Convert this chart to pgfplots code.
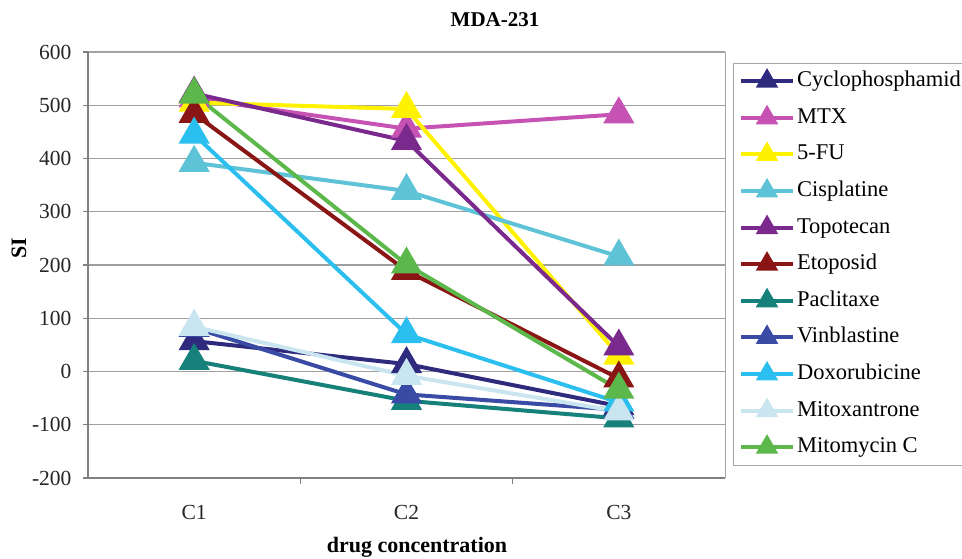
\documentclass[border=0pt]{standalone}
\usepackage{pgfplots}
\pgfplotsset{compat=1.18}
\usepackage{fontspec}
\setmainfont{Liberation Serif}
\definecolor{cCyc}{HTML}{2E2A7E}
\definecolor{cMTX}{HTML}{C653B4}
\definecolor{cFU}{HTML}{FFF200}
\definecolor{cCis}{HTML}{5EC3D6}
\definecolor{cTop}{HTML}{7A2A8C}
\definecolor{cEto}{HTML}{8A1515}
\definecolor{cPac}{HTML}{16807A}
\definecolor{cVin}{HTML}{3A4BA6}
\definecolor{cDox}{HTML}{2BBFEF}
\definecolor{cMit}{HTML}{C9E5F0}
\definecolor{cMmc}{HTML}{5CB84A}
\begin{document}
\begin{tikzpicture}
\useasboundingbox (0pt,0pt) rectangle (962pt,559pt);
\begin{axis}[
  at={(88pt,81pt)}, anchor=south west, scale only axis,
  width=637pt, height=426pt,
  xmin=-0.5, xmax=2.5, ymin=-200, ymax=600,
  xtick={0,1,2}, xticklabels={C1,C2,C3}, minor xtick={0.5,1.5},
  ytick={-200,-100,0,100,200,300,400,500,600},
  yticklabels={-200,-100,0,100,200,300,400,500,600},
  tick pos=left,
  ymajorgrids, grid style={draw=gray!75, line width=1.2pt},
  axis line style={draw=gray!70, line width=1pt},
  tick align=outside, major tick length=5pt, minor tick length=6pt,
  major x tick style={draw=none},
  minor x tick style={draw=gray, line width=1.2pt},
  major y tick style={draw=gray, line width=1.2pt},
  tick label style={font=\fontsize{21.5}{24}\selectfont, text=black!85},
  xticklabel style={yshift=-19pt},
  yticklabel style={xshift=-8pt},
  after end axis/.code={\draw[gray, line width=2pt] (rel axis cs:0,1) -- (rel axis cs:0,0) -- (rel axis cs:1,0);},
  every axis plot/.append style={line width=4pt, mark=triangle*, mark size=14pt, mark options={solid}},
  legend image code/.code={\draw[mark repeat=2,mark phase=2,mark size=9pt] plot coordinates {(0pt,0pt)(26pt,0pt)(52pt,0pt)};},
  legend cell align=left,
  legend style={at={(axis description cs:1.0126,0.975)}, anchor=north west,
    draw=gray!70, line width=1pt, fill=white, font=\fontsize{22.5}{22.5}\selectfont,
    inner sep=5.5pt, row sep=11.6pt,
    nodes={inner sep=2pt, text height=16pt, text depth=5pt}},
]
\addplot[color=cCyc] table {0 57
1 14
2 -65
};
\addlegendentry{Cyclophosphamid}
\addplot[color=cMTX] table {0 513
1 456
2 483
};
\addlegendentry{MTX}
\addplot[color=cFU] table {0 505
1 493
2 30
};
\addlegendentry{5-FU}
\addplot[color=cCis] table {0 392
1 339
2 216
};
\addlegendentry{Cisplatine}
\addplot[color=cTop] table {0 522
1 433
2 47
};
\addlegendentry{Topotecan}
\addplot[color=cEto] table {0 484
1 189
2 -13
};
\addlegendentry{Etoposid}
\addplot[color=cPac] table {0 20
1 -55
2 -88
};
\addlegendentry{Paclitaxe}
\addplot[color=cVin] table {0 82
1 -43
2 -72
};
\addlegendentry{Vinblastine}
\addplot[color=cDox] table {0 445
1 70
2 -58
};
\addlegendentry{Doxorubicine}
\addplot[color=cMit] table {0 84
1 -8
2 -75
};
\addlegendentry{Mitoxantrone}
\addplot[color=cMmc] table {0 520
1 201
2 -34
};
\addlegendentry{Mitomycin C}
\end{axis}
\node[font=\bfseries\fontsize{21}{24}\selectfont, anchor=base] at (495pt,532pt) {MDA-231};
\node[font=\bfseries\fontsize{22}{24}\selectfont, anchor=base] at (417pt,6pt) {drug concentration};
\node[font=\bfseries\fontsize{22}{24}\selectfont, rotate=90] at (19pt,311pt) {SI};
\end{tikzpicture}
\end{document}
